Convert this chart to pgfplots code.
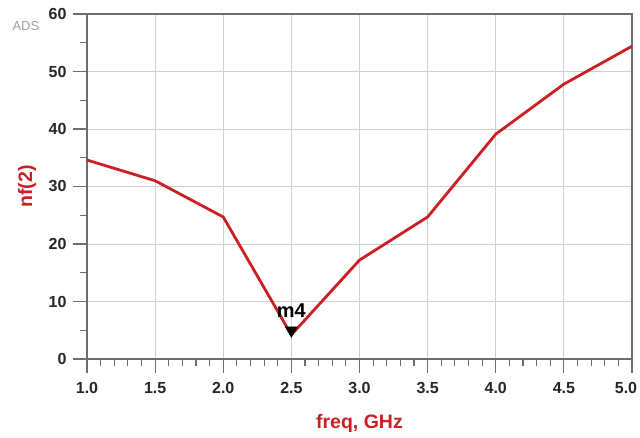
\documentclass[border=0pt]{standalone}
\usepackage{pgfplots}
\pgfplotsset{compat=1.18}
\usepackage{fontspec}
\setmainfont{Liberation Sans}
\definecolor{adsred}{HTML}{CC1F24}
\definecolor{axgray}{HTML}{6E6E6E}
\definecolor{gridgray}{HTML}{D0D0D0}
\begin{document}
\begin{tikzpicture}[x=1pt,y=1pt]
\path[use as bounding box] (0,0) rectangle (640,437);
\node[text=gray!75, font=\fontsize{13}{14}\selectfont, anchor=west] at (9,411) {ADS};
\begin{axis}[
  at={(87pt,78pt)}, anchor=south west,
  scale only axis, width=545pt, height=345pt,
  xmin=1, xmax=5, ymin=0, ymax=60,
  xtick={1,1.5,...,5}, ytick={0,10,...,60},
  xticklabels={1.0,1.5,2.0,2.5,3.0,3.5,4.0,4.5,\makebox[0pt]{\hspace{-12pt}5.0}},
  /pgf/number format/assume math mode=true,
  minor x tick num=4, minor y tick num=1,
  ticklabel style={font=\fontsize{16}{17}\selectfont\bfseries, text=black!85},
  xticklabel style={yshift=-6pt},
  yticklabel style={xshift=-3pt},
  tick align=outside,
  major tick length=14pt, minor tick length=7pt,
  tick style={axgray, line width=1.1pt},
  axis line style={axgray, line width=1.1pt},
  grid=major, major grid style={gridgray, line width=0.8pt},
  xtick pos=bottom, ytick pos=left,
  xlabel={freq, GHz}, ylabel={nf(2)},
  label style={font=\fontsize{19.5}{21}\selectfont\bfseries, text=adsred},
  xlabel style={at={(0.5,0)}, anchor=center, yshift=-64pt},
  ylabel style={at={(0,0.5)}, anchor=center, yshift=60pt},
  clip=false,
]
\addplot[adsred, line width=2.8pt, line join=round] coordinates {
(1.0,34.6) (1.5,31.0) (2.0,24.7) (2.5,4.2) (3.0,17.2) (3.5,24.7) (4.0,39.1) (4.5,47.8) (5.0,54.4)
};
\addplot[only marks, mark=triangle*, mark size=7pt, mark options={black, rotate=180, yshift=-4.5pt}] coordinates {(2.5,4.2)}
  node[pos=0, font=\fontsize{20}{22}\selectfont\bfseries, text=black, yshift=24pt] {m4};
\end{axis}
\end{tikzpicture}
\end{document}
